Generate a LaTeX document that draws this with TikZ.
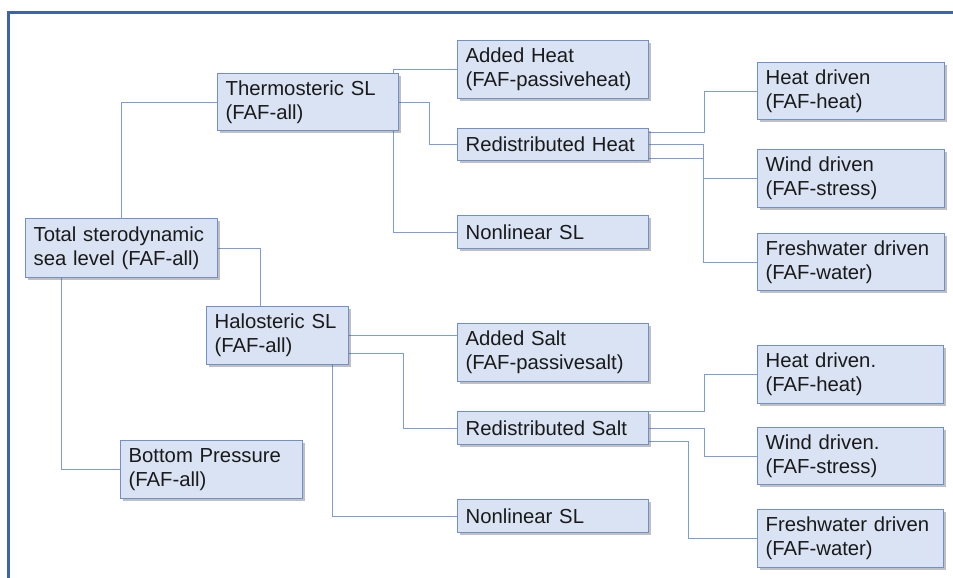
\documentclass[tikz,border=0pt]{standalone}
\usepackage{fontspec}
\setmainfont{Liberation Sans}
\usetikzlibrary{shadows,backgrounds,calc}
\definecolor{boxfill}{HTML}{DAE3F3}
\definecolor{boxline}{HTML}{6F8FCF}
\definecolor{conn}{HTML}{7C9CDB}
\definecolor{frameblue}{HTML}{3D62AE}
\definecolor{txt}{HTML}{1A1A1A}
\tikzset{
  box/.style n args={2}{draw=boxline, fill=boxfill, line width=1.2pt,
    rectangle, anchor=north west, minimum width=#1, minimum height=#2,
    text width=#1-16pt, inner xsep=8pt, inner ysep=0pt, align=left,
    text=txt, font=\fontsize{20.3}{24}\selectfont,
    drop shadow={shadow xshift=2pt, shadow yshift=-2pt, opacity=0.35, fill=black!70}},
  link/.style={draw=conn, line width=1pt},
  frameline/.style={draw=frameblue, line width=3pt}
}
\begin{document}
\begin{tikzpicture}[x=1pt,y=-1pt]
\useasboundingbox (0,0) rectangle (953,578);

\node[box={192pt}{59pt}] (tot) at (25,218) {Total sterodynamic\\sea level (FAF-all)};
\node[box={181pt}{57pt}] (thermo) at (217,73) {Thermosteric SL\\(FAF-all)};
\node[box={191pt}{58pt}] (ah) at (457,40) {Added Heat\\(FAF-passiveheat)};
\node[box={191pt}{32pt}] (rh) at (457,128) {Redistributed Heat};
\node[box={191pt}{33pt}] (nl1) at (457,215) {Nonlinear SL};
\node[box={187pt}{57pt}] (hd1) at (757,62) {Heat driven\\(FAF-heat)};
\node[box={187pt}{58pt}] (wd1) at (757,149) {Wind driven\\(FAF-stress)};
\node[box={187pt}{57pt}] (fd1) at (757,233) {Freshwater driven\\(FAF-water)};
\node[box={142pt}{58pt}] (halo) at (206,306) {Halosteric SL\\(FAF-all)};
\node[box={191pt}{58pt}] (as) at (457,323) {Added Salt\\(FAF-passivesalt)};
\node[box={191pt}{33pt}] (rs) at (457,411) {Redistributed Salt};
\node[box={191pt}{33pt}] (nl2) at (457,499) {Nonlinear SL};
\node[box={186pt}{58pt}] (hd2) at (757,345) {Heat driven.\\(FAF-heat)};
\node[box={186pt}{57pt}] (wd2) at (757,427) {Wind driven.\\(FAF-stress)};
\node[box={186pt}{58pt}] (fd2) at (757,509) {Freshwater driven\\(FAF-water)};
\node[box={182pt}{58pt}] (bp) at (120,440) {Bottom Pressure\\(FAF-all)};

\begin{pgfonlayer}{background}
\fill[white] (0,0) rectangle (953,578);
\draw[frameline] (8.5,578) -- (8.5,12.5) -- (953,12.5);

\draw[link] (tot.north) |- (thermo.west);
\draw[link] (tot.east) -| ([xshift=54pt]halo.north west);
\draw[link] ([xshift=36pt]tot.south west) |- (bp.west);

\draw[link] ([xshift=-6pt]thermo.north east) |- (ah.west);
\draw[link] (thermo.east) -- ++(30,0) |- (rh.west);
\draw[link] ([xshift=-6pt]thermo.south east) |- (nl1.west);

\draw[link] ([yshift=-4pt]rh.north east) -- ++(55,0) |- (hd1.west);
\draw[link] (rh.east) -- ++(54,0) |- (wd1.west);
\draw[link] ([yshift=3pt]rh.south east) -- ++(54,0) |- (fd1.west);

\draw[link] (halo.east) -- (halo.east -| as.west);
\draw[link] ([yshift=12pt]halo.south east) -- ++(54,0) |- (rs.west);
\draw[link] ([xshift=-17pt]halo.south east) |- (nl2.west);

\draw[link] (rs.north east) -- ++(55,0) |- (hd2.west);
\draw[link] (rs.east) -- ++(55,0) |- (wd2.west);
\draw[link] ([yshift=4pt]rs.south east) -- ++(39,0) |- (fd2.west);
\end{pgfonlayer}
\end{tikzpicture}
\end{document}
